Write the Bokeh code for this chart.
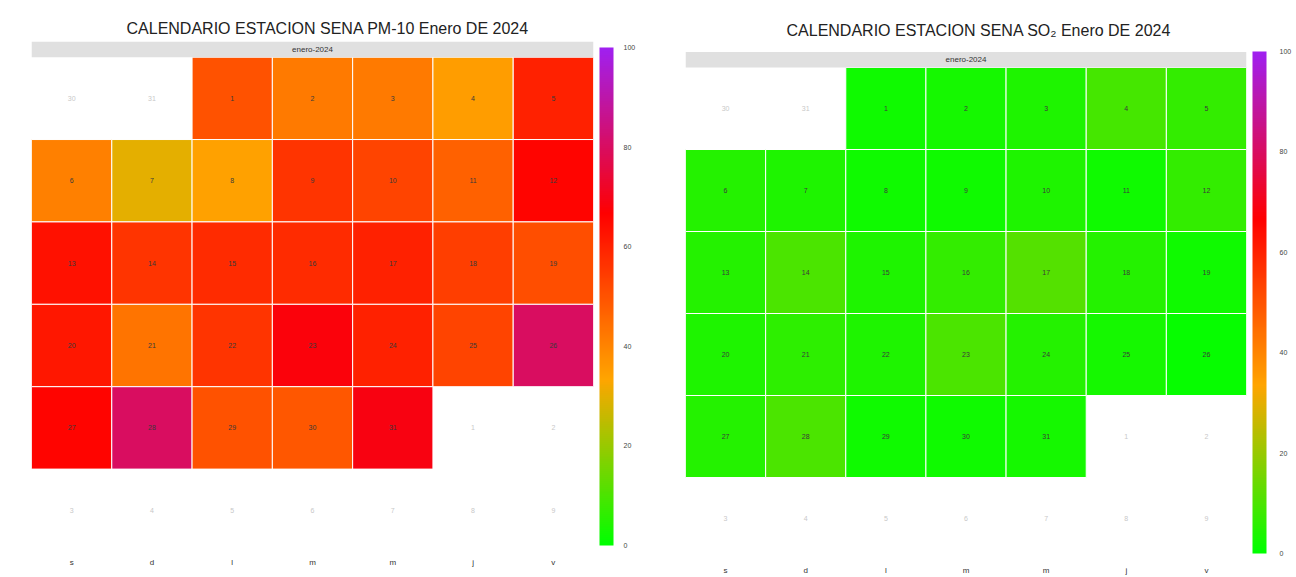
import numpy as np
from bokeh.plotting import figure
from bokeh.models import ColumnDataSource, LinearColorMapper, ColorBar, FixedTicker, Range1d
from bokeh.layouts import row
from bokeh.embed import file_html
from bokeh.resources import INLINE
from bokeh.core.properties import value

# ---------------- data ----------------
day_labels = ["s", "d", "l", "m", "m", "j", "v"]      # week starts on Saturday
month_label = "enero-2024"
jan_days = list(range(1, 32))
prev_days = [30, 31]                                   # December days shown in first week
next_days = [1, 2, 3, 4, 5, 6, 7, 8, 9]                # February days shown after month end
first_weekday_col = 2                                  # 1 Jan 2024 is a Monday

pm10 = [50, 42, 42, 35, 60,
        41, 30, 34, 56, 53, 47, 66,
        63, 56, 58, 58, 60, 54, 51,
        62, 43, 56, 68, 60, 53, 80,
        66, 80, 50, 49, 69]
so2 = [2, 3, 4, 9, 7,
       5, 4, 2, 2, 4, 2, 7,
       5, 10, 4, 7, 11, 5, 2,
       4, 6, 4, 10, 5, 3, 1,
       5, 10, 2, 2, 3]

scale_ticks = [0, 20, 40, 60, 80, 100]
scale_low, scale_high = 0, 100
ramp_colors = [(0, 255, 0), (255, 165, 0), (255, 0, 0), (160, 32, 240)]  # green, orange, red, purple

title_pm10 = "CALENDARIO ESTACION SENA PM-10 Enero DE 2024"
title_so2 = "CALENDARIO ESTACION SENA SO\u2082 Enero DE 2024"

# ---------------- palette ----------------
def ramp(colors, n=256):
    cols = np.array(colors, dtype=float)
    pos = np.linspace(0, 1, len(cols))
    t = np.linspace(0, 1, n)
    out = []
    for v in t:
        rgb = [np.interp(v, pos, cols[:, k]) for k in range(3)]
        out.append("#%02x%02x%02x" % tuple(int(round(c)) for c in rgb))
    return out

palette = ramp(ramp_colors)
FONT = "Liberation Sans"
STRIP_TOP = 6.19


def make_panel(title, values, left, top, frame_w, frame_h, right, bottom, title_offset,
               title_standoff, y_top, cb_height, cb_loc, cb_standoff):
    mapper = LinearColorMapper(palette=palette, low=scale_low, high=scale_high)
    p = figure(frame_width=frame_w, frame_height=frame_h,
               min_border_left=left, min_border_right=right,
               min_border_top=top, min_border_bottom=bottom,
               x_range=Range1d(0, 7), y_range=Range1d(0, y_top),
               y_axis_type=None, output_backend="svg", toolbar_location=None,
               title=title)
    p.title.align = "left"
    p.title.offset = title_offset
    p.title.standoff = title_standoff
    p.title.text_font = FONT
    p.title.text_font_size = "16px"
    p.title.text_font_style = "normal"
    p.title.text_color = "#222222"
    p.grid.visible = False
    p.outline_line_color = None
    p.background_fill_color = "white"

    # month cells
    idx = [d - 1 + first_weekday_col for d in jan_days]
    cols = [i % 7 for i in idx]
    rows_ = [i // 7 for i in idx]
    src = ColumnDataSource(dict(x=[c + 0.5 for c in cols], y=[5.5 - r for r in rows_],
                                val=values, lab=[str(d) for d in jan_days]))
    p.rect("x", "y", 1, 1, source=src,
           fill_color={"field": "val", "transform": mapper},
           line_color="white", line_width=1)
    p.text("x", "y", text="lab", source=src, text_font=value(FONT), text_font_size="7px",
           text_color="#3a3a3a", text_align="center", text_baseline="middle")

    # days outside the month (grey)
    out_idx = list(range(len(prev_days))) + [31 + first_weekday_col + k for k in range(len(next_days))]
    out_lab = [str(d) for d in prev_days + next_days]
    osrc = ColumnDataSource(dict(x=[i % 7 + 0.5 for i in out_idx], y=[5.5 - i // 7 for i in out_idx],
                                 lab=out_lab))
    p.text("x", "y", text="lab", source=osrc, text_font=value(FONT), text_font_size="7px",
           text_color="#c8c8c8", text_align="center", text_baseline="middle")

    # strip
    p.quad(left=0, right=7, bottom=6, top=STRIP_TOP, fill_color="#e0e0e0", line_color=None)
    p.text(x=[3.5], y=[(6 + STRIP_TOP) / 2], text=[month_label], text_font=value(FONT),
           text_font_size="8px", text_color="#333333", text_align="center", text_baseline="middle")

    # weekday labels
    ax = p.xaxis[0]
    ax.ticker = FixedTicker(ticks=[i + 0.5 for i in range(7)])
    ax.major_label_overrides = {i + 0.5: lab for i, lab in enumerate(day_labels)}
    ax.axis_line_color = None
    ax.major_tick_line_color = None
    ax.minor_tick_line_color = None
    ax.major_tick_in = 0
    ax.major_tick_out = 0
    ax.major_label_standoff = 6
    ax.major_label_text_font = FONT
    ax.major_label_text_font_size = "8px"
    ax.major_label_text_color = "#333333"

    cb = ColorBar(color_mapper=mapper, ticker=FixedTicker(ticks=scale_ticks), width=14,
                  height=cb_height, margin=0, padding=6, location=cb_loc,
                  major_label_text_font=FONT, major_label_text_font_size="7px",
                  major_label_text_color="#444444", major_tick_line_color=None,
                  minor_tick_line_color=None, bar_line_color=None, border_line_color=None,
                  background_fill_alpha=0, label_standoff=cb_standoff)
    p.add_layout(cb, "right")
    return p


p1 = make_panel(title_pm10, pm10, left=31, top=41, frame_w=562, frame_h=510,
                right=62, bottom=17, title_offset=95, title_standoff=10, y_top=STRIP_TOP,
                cb_height=498, cb_loc="top", cb_standoff=10)
p2 = make_panel(title_so2, so2, left=30, top=41, frame_w=561, frame_h=518,
                right=45, bottom=16, title_offset=101, title_standoff=6, y_top=518 / 82.0,
                cb_height=502, cb_loc="bottom", cb_standoff=13)

layout = row(p1, p2)
open("out.html", "w").write(file_html(layout, INLINE))
